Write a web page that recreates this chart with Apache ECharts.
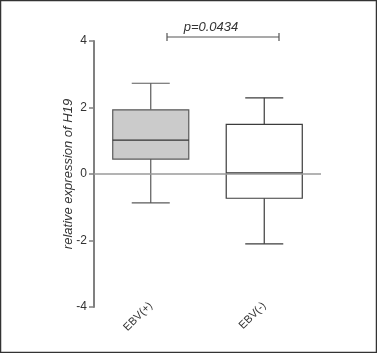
<!DOCTYPE html>
<html>
<head>
<meta charset="utf-8">
<script src="https://cdn.jsdelivr.net/npm/echarts@6/dist/echarts.min.js"></script>
<style>
  html, body { margin: 0; padding: 0; background: #fff; }
  #chart { width: 377px; height: 353px; }
</style>
</head>
<body>
<div id="chart"></div>
<script>
var groups = ['EBV(+)', 'EBV(-)'];
// [min, Q1, median, Q3, max]
var boxValues = [
    [-0.87, 0.45, 1.02, 1.93, 2.73],
    [-2.1, -0.73, 0.03, 1.49, 2.29]
];
var boxFills = ['#cbcbcb', '#ffffff'];
var boxStrokes = ['#5a5a5a', '#3c3c3c'];
var yTicks = [-4, -2, 0, 2, 4];
var pText = 'p=0.0434';

var chart = echarts.init(document.getElementById('chart'));

function renderBox(params, api) {
    var i = params.dataIndex;
    var x = api.value(0);
    var lo = api.coord([x, api.value(1)]);
    var q1 = api.coord([x, api.value(2)]);
    var med = api.coord([x, api.value(3)]);
    var q3 = api.coord([x, api.value(4)]);
    var hi = api.coord([x, api.value(5)]);
    var band = api.size([1, 0])[0];
    var hw = band * 0.335;
    var cw = hw / 2;
    var cx = lo[0];
    var line = { stroke: boxStrokes[i], lineWidth: 1.2 };
    return {
        type: 'group',
        children: [
            { type: 'line', shape: { x1: cx, y1: q3[1], x2: cx, y2: hi[1] }, style: line },
            { type: 'line', shape: { x1: cx - cw, y1: hi[1], x2: cx + cw, y2: hi[1] }, style: line },
            { type: 'line', shape: { x1: cx, y1: q1[1], x2: cx, y2: lo[1] }, style: line },
            { type: 'line', shape: { x1: cx - cw, y1: lo[1], x2: cx + cw, y2: lo[1] }, style: line },
            {
                type: 'rect',
                shape: { x: cx - hw, y: q3[1], width: hw * 2, height: q1[1] - q3[1] },
                style: { fill: boxFills[i], stroke: boxStrokes[i], lineWidth: 1.2 }
            },
            { type: 'line', shape: { x1: cx - hw, y1: med[1], x2: cx + hw, y2: med[1] }, style: { stroke: '#333', lineWidth: 1.3 } }
        ]
    };
}

var option = {
    animation: false,
    textStyle: { fontFamily: 'Liberation Sans' },
    grid: { left: 94, right: 56, top: 41, bottom: 46 },
    xAxis: {
        type: 'category',
        data: groups,
        axisLine: { show: false, onZero: false },
        axisTick: { show: false },
        axisLabel: { rotate: 45, fontSize: 11, color: '#333', margin: -3 }
    },
    yAxis: {
        type: 'value',
        min: yTicks[0],
        max: yTicks[yTicks.length - 1],
        interval: 2,
        name: 'relative expression of H19',
        nameLocation: 'middle',
        nameRotate: 90,
        nameGap: 19,
        nameMoveOverlap: false,
        nameTextStyle: { fontStyle: 'italic', fontSize: 13, color: '#333' },
        axisLine: { show: true, lineStyle: { color: '#808080', width: 2 } },
        axisTick: { show: true, length: 5, lineStyle: { color: '#808080', width: 1.5 } },
        axisLabel: { fontSize: 12, color: '#333', margin: 7 },
        splitLine: { show: false }
    },
    series: [
        {
            type: 'line',
            data: [],
            z: 1,
            markLine: {
                silent: true,
                symbol: 'none',
                label: { show: false },
                lineStyle: { color: '#9a9a9a', width: 1.5, type: 'solid' },
                data: [{ yAxis: 0 }]
            }
        },
        {
            type: 'custom',
            renderItem: renderBox,
            encode: { x: 0, y: [1, 2, 3, 4, 5] },
            data: boxValues.map(function (v, i) { return [i].concat(v); }),
            z: 3
        }
    ],
    graphic: [
        {
            type: 'rect',
            shape: { x: 0.5, y: 0.5, width: 376, height: 352 },
            style: { fill: null, stroke: '#333', lineWidth: 1.5 }
        },
        {
            type: 'polyline',
            shape: { points: [[167, 33], [167, 41], [167, 37], [279, 37], [279, 33], [279, 41]] },
            style: { fill: null, stroke: '#555', lineWidth: 1.2 }
        },
        {
            type: 'text',
            x: 211, y: 27,
            style: {
                text: pText, fontSize: 13, fontStyle: 'italic', fill: '#333',
                fontFamily: 'Liberation Sans', align: 'center', verticalAlign: 'middle'
            }
        }
    ]
};

chart.setOption(option);
</script>
</body>
</html>
